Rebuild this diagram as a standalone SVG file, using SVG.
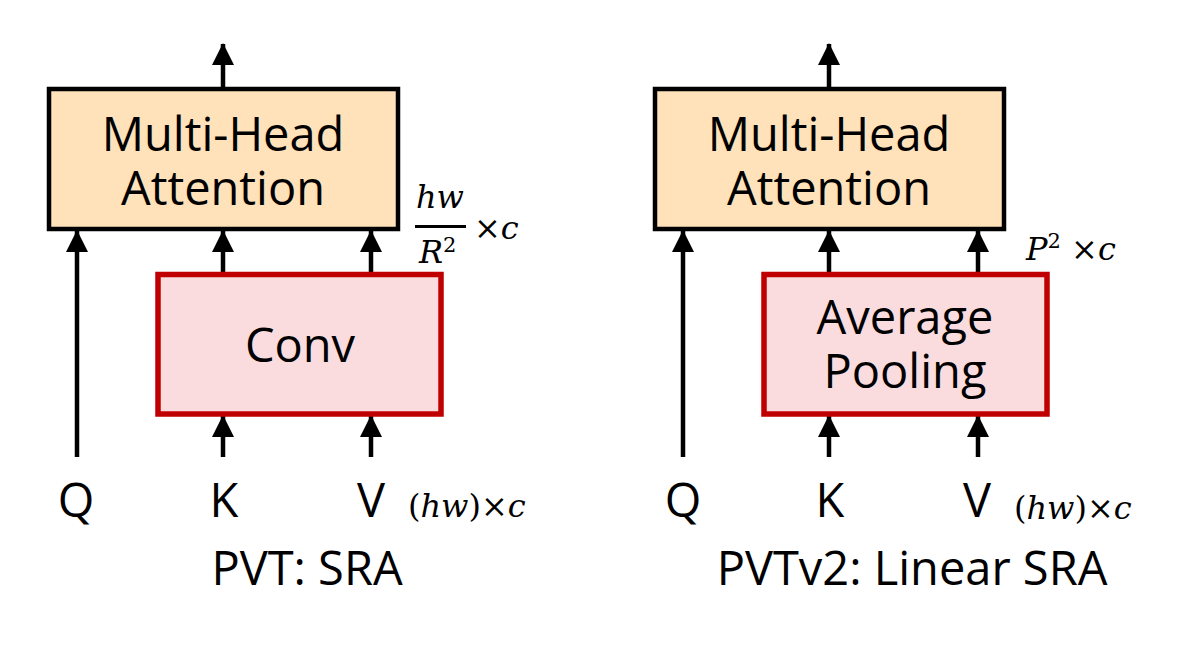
<svg xmlns="http://www.w3.org/2000/svg" width="1204" height="645" viewBox="0 0 1204 645">
<style>
.mha{fill:#FFE1BA;stroke:#000;stroke-width:4.5}
.red{fill:#FADCDE;stroke:#C00000;stroke-width:5.5}
.lbl{font-family:"Open Sans","Noto Sans",sans-serif;font-size:47px;fill:#000;text-anchor:middle}
.math{font-family:"DejaVu Serif","Liberation Serif",serif;font-size:32px;fill:#000}
.it{font-style:italic}
.ln{stroke:#000;stroke-width:4.5;fill:none}
</style>
<defs>
<marker id="ah" markerUnits="userSpaceOnUse" markerWidth="24" markerHeight="24" viewBox="0 0 24 24" refX="21" refY="12" orient="auto">
<path d="M0,1 L22,12 L0,23 Z" fill="#000"/>
</marker>
</defs>
<rect width="1204" height="645" fill="#fff"/>
<g id="connectors">
<line class="ln" x1="223" y1="89" x2="223" y2="44" marker-end="url(#ah)"/>
<line class="ln" x1="77" y1="457" x2="77" y2="231" marker-end="url(#ah)"/>
<line class="ln" x1="223" y1="272" x2="223" y2="231" marker-end="url(#ah)"/>
<line class="ln" x1="371" y1="272" x2="371" y2="231" marker-end="url(#ah)"/>
<line class="ln" x1="223" y1="457" x2="223" y2="416" marker-end="url(#ah)"/>
<line class="ln" x1="371" y1="457" x2="371" y2="416" marker-end="url(#ah)"/>
<line class="ln" x1="829" y1="89" x2="829" y2="44" marker-end="url(#ah)"/>
<line class="ln" x1="683" y1="457" x2="683" y2="231" marker-end="url(#ah)"/>
<line class="ln" x1="829" y1="272" x2="829" y2="231" marker-end="url(#ah)"/>
<line class="ln" x1="978" y1="272" x2="978" y2="231" marker-end="url(#ah)"/>
<line class="ln" x1="829" y1="457" x2="829" y2="416" marker-end="url(#ah)"/>
<line class="ln" x1="978" y1="457" x2="978" y2="416" marker-end="url(#ah)"/>
</g>
<g id="mha1">
<rect class="mha" x="49" y="89" width="349" height="140"/>
<text class="lbl" x="223" y="151">Multi-Head</text>
<text class="lbl" x="223" y="205">Attention</text>
</g>
<g id="conv">
<rect class="red" x="158" y="274.5" width="283" height="139.5"/>
<text class="lbl" x="300" y="362">Conv</text>
</g>
<g id="mha2">
<rect class="mha" x="655" y="89" width="349" height="140"/>
<text class="lbl" x="829" y="151">Multi-Head</text>
<text class="lbl" x="829" y="205">Attention</text>
</g>
<g id="pool">
<rect class="red" x="764" y="274.5" width="283" height="139.5"/>
<text class="lbl" x="905" y="334">Average</text>
<text class="lbl" x="905" y="388">Pooling</text>
</g>
<g id="labels1">
<text class="lbl" x="76" y="517">Q</text>
<text class="lbl" x="224" y="517">K</text>
<text class="lbl" x="371" y="517">V</text>
<text class="lbl" x="307" y="585">PVT: SRA</text>
<text class="math" x="408" y="517">(<tspan class="it">hw</tspan>)×<tspan class="it">c</tspan></text>
<text class="math it" x="416" y="208">hw</text>
<line x1="415" y1="226.5" x2="466" y2="226.5" stroke="#000" stroke-width="3"/>
<text class="math it" x="419" y="263">R<tspan font-style="normal" font-size="21" dy="-11">2</tspan></text>
<text class="math" x="474" y="239">×<tspan class="it">c</tspan></text>
</g>
<g id="labels2">
<text class="lbl" x="683" y="517">Q</text>
<text class="lbl" x="830" y="517">K</text>
<text class="lbl" x="977" y="517">V</text>
<text class="lbl" x="912" y="585">PVTv2: Linear SRA</text>
<text class="math" x="1014" y="519">(<tspan class="it">hw</tspan>)×<tspan class="it">c</tspan></text>
<text class="math it" x="1026" y="260">P<tspan font-style="normal" font-size="21" dy="-12">2</tspan><tspan font-style="normal" dy="12"> ×</tspan><tspan>c</tspan></text>
</g>
</svg>
